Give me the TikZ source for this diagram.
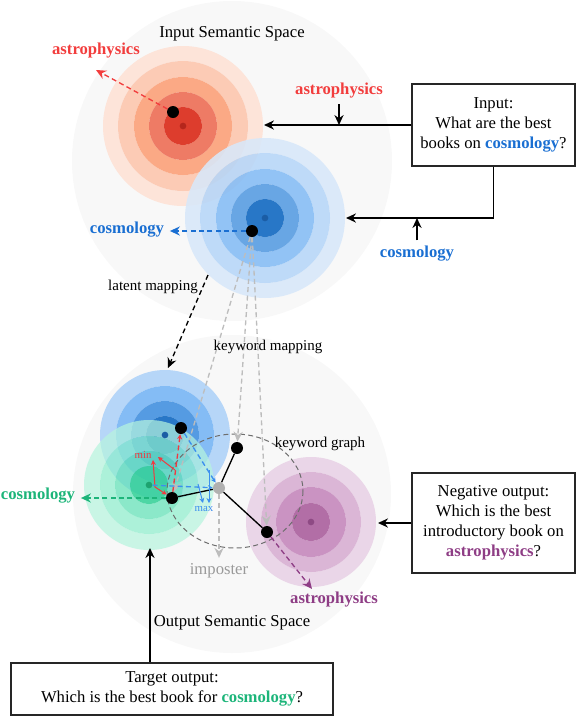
\documentclass[tikz,border=0pt]{standalone}
\usepackage{fontspec}
\setmainfont{Liberation Serif}
\usetikzlibrary{arrows.meta}

\definecolor{spacegray}{HTML}{F8F8F8}
\definecolor{rA}{HTML}{FDE4D9}
\definecolor{rB}{HTML}{FCCBB5}
\definecolor{rC}{HTML}{FBA985}
\definecolor{rD}{HTML}{EE7B65}
\definecolor{rE}{HTML}{DD3D2D}
\definecolor{rF}{HTML}{B5261C}
\definecolor{bA}{HTML}{D8E8FA}
\definecolor{bB}{HTML}{B6D6F8}
\definecolor{bC}{HTML}{84BCF5}
\definecolor{bD}{HTML}{559BE2}
\definecolor{bE}{HTML}{2877C7}
\definecolor{bF}{HTML}{1B5DA5}
\definecolor{gA}{HTML}{B6F5DE}
\definecolor{gB}{HTML}{8CEFCD}
\definecolor{gC}{HTML}{5EE2B6}
\definecolor{gD}{HTML}{30D196}
\definecolor{gF}{HTML}{1EA36F}
\definecolor{pA}{HTML}{EAD6E8}
\definecolor{pB}{HTML}{DBB6D6}
\definecolor{pC}{HTML}{CA93C2}
\definecolor{pD}{HTML}{B26EA6}
\definecolor{pF}{HTML}{8E4A84}
\definecolor{kwred}{HTML}{F23D3D}
\definecolor{kwblue}{HTML}{1A6FD2}
\definecolor{kwgreen}{HTML}{1DB57A}
\definecolor{kwpurple}{HTML}{8E3D85}
\definecolor{arred}{HTML}{F2383F}
\definecolor{arblue}{HTML}{3C8FEF}
\definecolor{mapgray}{HTML}{BDBDBD}
\definecolor{graphgray}{HTML}{6E6E6E}
\definecolor{impgray}{HTML}{B0B0B0}
\definecolor{imptext}{HTML}{9A9A9A}

\tikzset{
  textbox/.style={draw=black!85, line width=0.8pt, align=center, inner sep=0pt},
  arr/.style={-{Stealth[length=6pt,width=5.5pt,inset=2pt]}},
  tinyarr/.style={-{Stealth[length=3pt,width=3pt,inset=1pt]}, semithick},
  dsh/.style={dash pattern=on 3pt off 2pt},
  kwdot/.style={circle, fill=black, inner sep=0pt, minimum size=7.2pt},
  core/.style={circle, inner sep=0pt, minimum size=4pt},
  kw/.style={font=\bfseries},
  tiny/.style={font=\fontsize{6.5}{7}\selectfont},
}

\begin{document}
\begin{tikzpicture}[x=0.6pt,y=-0.6pt]
\useasboundingbox (0,0) rectangle (576,716);
% semantic spaces
\fill[spacegray] (232,161) circle (160);
\fill[spacegray] (232,494) circle (159);
\node (inspace) at (232,34) {Input Semantic Space};
\node (outspace) at (232,623) {Output Semantic Space};

% input space
\foreach \ro/\ri/\col in {80/65/rA,65/49/rB,49/34/rC,34/19/rD}
  \fill[\col, even odd rule] (183,126) circle (\ro) circle (\ri);
\fill[rE] (183,126) circle (19);
\foreach \ro/\ri/\col in {80/65/bA,65/49/bB,49/34/bC,34/19/bD}
  \fill[\col, even odd rule, fill opacity=.88] (265,218) circle (\ro) circle (\ri);
\fill[bE] (265,218) circle (19);

% output space
\foreach \ro/\ri/\col in {65/49/bB,49/34/bC,34/19/bD}
  \fill[\col, even odd rule] (165,435) circle (\ro) circle (\ri);
\fill[bE] (165,435) circle (19);
\foreach \ro/\ri/\col in {65/49/gA,49/34/gB,34/19/gC}
  \fill[\col, even odd rule, fill opacity=.7] (149,485) circle (\ro) circle (\ri);
\fill[gD, fill opacity=.85] (149,485) circle (19);
\foreach \ro/\ri/\col in {65/50/pA,50/35/pB,35/19/pC}
  \fill[\col, even odd rule] (311,522) circle (\ro) circle (\ri);
\fill[pD] (311,522) circle (19);

\node[core, fill=rF] (redc) at (183,126) {};
\node[core, fill=bF] (bluec) at (265,218) {};
\node[core, fill=bF] (bluec2) at (165,435) {};
\node[core, fill=gF] (greenc) at (149,485) {};
\node[core, fill=pF] (purplec) at (311,522) {};

% keyword graph
\draw[dsh, semithick, graphgray] (235,491) ellipse [x radius=68, y radius=57];
\node[font=\small] (kwgraph) at (320,444) {keyword graph};

\node[kwdot] (astro1) at (173,112) {};
\node[kwdot] (cosmo1) at (252,231) {};
\node[kwdot] (kwA) at (181,428) {};
\node[kwdot] (kwB) at (237,448) {};
\node[kwdot] (kwC) at (172,498) {};
\node[kwdot] (kwD) at (267,532) {};
\node[kwdot, fill=impgray] (kwG) at (219,488) {};

\draw[thick] (kwC) -- (kwG) -- (kwB);
\draw[thick] (kwG) -- (kwD);

% input labels
\node[kw, text=kwred] (astrolabel1) at (96,51) {astrophysics};
\node[kw, text=kwblue] (cosmolabel1) at (127,230) {cosmology};
\coordinate (astrotip1) at (96,70);
\draw[arr, dsh, thick, kwred] (astro1) -- (astrotip1);
\draw[arr, dsh, thick, kwblue] (cosmo1) -- (cosmo1 -| cosmolabel1.east);

\node[textbox, minimum width=97.8pt, minimum height=49.2pt] (inbox) at (493.5,125)
  {Input:\\What are the best\\books on \textcolor{kwblue}{\textbf{cosmology}}?};
\coordinate (redin) at (264,125);
\coordinate (bluein) at (346,218);
\draw[arr, thick] (inbox.west) -- (redin);
\node[kw, text=kwred] (astrolabel2) at (339,91) {astrophysics};
\draw[arr, thick] (astrolabel2.south) -- (astrolabel2.south |- inbox.west);
\draw[arr, thick] (inbox.south) |- (bluein);
\node[kw, text=kwblue] (cosmolabel2) at (417,254) {cosmology};
\draw[arr, thick] (cosmolabel2.north) -- (cosmolabel2.north |- bluein);

% mappings
\node[font=\small] (latent) at (153,287) {latent mapping};
\coordinate (latentA) at (208,275);
\coordinate (latentB) at (168,368);
\draw[arr, dsh, thick] (latentA) -- (latentB);
\draw[arr, dsh, thick, mapgray] (cosmo1) -- (kwB);
\draw[arr, dsh, thick, mapgray] (cosmo1) -- (kwD);
\draw[arr, dsh, thick, mapgray] (cosmo1) -- (kwC);
\node[font=\small] (kwmap) at (268,347) {keyword mapping};

\node[text=imptext] (imposter) at (219,571) {imposter};
\draw[arr, dsh, thick, mapgray] (kwG) -- (imposter);

% min / max
\coordinate (minA) at (175,470);
\coordinate (minB) at (158,457);
\coordinate (minC) at (155,487);
\coordinate (minD) at (153,460);
\draw[tinyarr, dsh, thick, arred] (kwC) -- (kwA);
\draw[tinyarr, arred] (minA) -- (minB);
\draw[tinyarr, arred] (minC) -- (minD);
\draw[tinyarr, arred] (minC) -- (kwC);
\node[tiny, text=arred] (minlabel) at (143,455) {min};
\coordinate (maxA) at (198,484);
\coordinate (maxB) at (203,503);
\coordinate (maxC) at (209,470);
\coordinate (maxD) at (209,503);
\draw[tinyarr, dsh, thick, arblue] (kwA) -- (kwG);
\draw[tinyarr, dsh, thick, arblue] (greenc) -- (kwG);
\draw[tinyarr, arblue] (maxA) -- (maxB);
\draw[tinyarr, arblue] (maxC) -- (maxD);
\node[tiny, text=arblue] (maxlabel) at (204,509) {max};

% output labels
\node[kw, text=kwgreen] (cosmolabel3) at (38,496) {cosmology};
\draw[arr, dsh, thick, kwgreen] (kwC) -- (kwC -| cosmolabel3.east);
\node[kw, text=kwpurple] (astrolabel3) at (334,600) {astrophysics};
\coordinate (astrotip3) at (312,589);
\draw[arr, dsh, thick, kwpurple] (kwD) -- (astrotip3);

\node[textbox, minimum width=97.8pt, minimum height=60pt] (negbox) at (493.5,523)
  {Negative output:\\Which is the best\\introductory book on\\\textcolor{kwpurple}{\textbf{astrophysics}}?};
\coordinate (purplein) at (378,523);
\draw[arr, thick] (negbox.west) -- (purplein);

\node[textbox, minimum width=193.2pt, minimum height=31.2pt] (target) at (172,689)
  {Target output:\\Which is the best book for \textcolor{kwgreen}{\textbf{cosmology}}?};
\coordinate (greenin) at (150,548);
\draw[arr, thick] (target.north -| greenin) -- (greenin);
\end{tikzpicture}
\end{document}
